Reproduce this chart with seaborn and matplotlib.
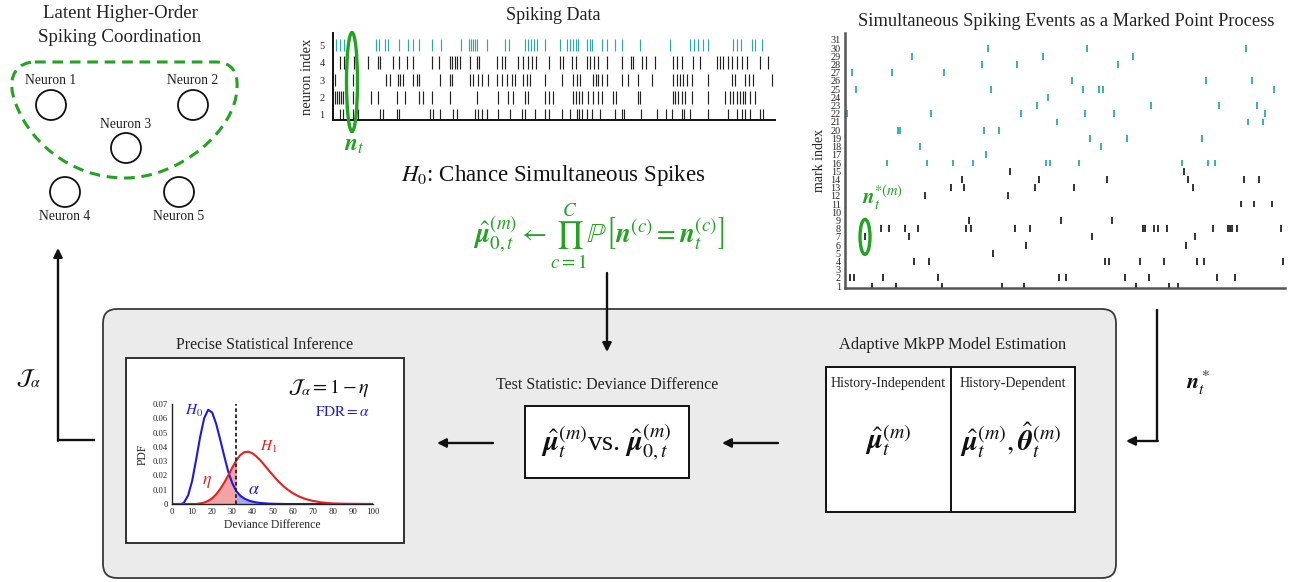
import numpy as np
import matplotlib
matplotlib.use("Agg")
import matplotlib.pyplot as plt
import seaborn as sns
from matplotlib.patches import Circle, Ellipse, FancyBboxPatch, Rectangle, PathPatch
from matplotlib.path import Path

# ---------------- data ----------------
neuron_ids = [1, 2, 3, 4, 5]
spikes_neuron1 = [7, 10, 15, 20, 23, 25, 47, 50, 64, 66, 97, 100, 107, 120, 124, 142, 145, 149, 154, 165, 177, 189, 192,
                  202, 212, 216, 229, 237, 244, 246, 249, 254, 259, 267, 282, 289, 291, 308, 324, 333, 339, 349, 351,
                  357, 375, 395, 404, 409, 412, 417, 427, 430]
spikes_neuron2 = [2, 4, 6, 8, 10, 20, 38, 45, 64, 72, 86, 90, 99, 117, 144, 165, 175, 180, 192, 195, 212, 216, 220, 240,
                  243, 246, 249, 255, 260, 265, 269, 280, 283, 305, 307, 340, 342, 345, 349, 352, 359, 375, 392, 397,
                  400, 404, 407, 410, 412, 417, 422]
spikes_neuron3 = [2, 20, 53, 57, 65, 67, 70, 80, 84, 86, 107, 117, 119, 137, 140, 145, 149, 155, 164, 169, 174, 179, 182,
                  190, 194, 197, 212, 229, 240, 244, 247, 260, 263, 265, 269, 274, 289, 295, 305, 319, 340, 344, 347,
                  350, 354, 359, 375, 399, 402, 412, 416, 420, 439]
spikes_neuron4 = [7, 11, 21, 35, 45, 47, 60, 66, 74, 80, 99, 106, 117, 119, 122, 124, 127, 137, 144, 146, 164, 169, 172,
                  185, 190, 195, 199, 203, 216, 227, 230, 239, 243, 254, 257, 261, 265, 274, 289, 298, 300, 309, 313,
                  322, 340, 344, 349, 360, 367, 384, 387, 390, 395, 399, 404, 409, 414, 427, 435]
spikes_neuron5 = [3, 7, 11, 43, 46, 52, 55, 66, 75, 80, 86, 99, 108, 128, 136, 138, 140, 142, 144, 154, 172, 176, 192,
                  195, 198, 201, 204, 212, 227, 234, 237, 240, 243, 245, 254, 257, 259, 269, 274, 282, 289, 307, 337,
                  357, 361, 365, 370, 375, 400, 404, 408, 419, 422, 429]
selected_time = 19

mark_ids = list(range(1, 32))
# events per mark (index 0 -> mark 1)
mark_events = [
    [27, 51, 97, 157, 179, 291, 324, 333],
    [5, 9, 38, 93, 214, 221, 280, 304, 372, 390],
    [],
    [69, 84, 260, 264, 295, 319, 352, 359, 438],
    [148],
    [181, 341],
    [20, 64, 247, 350],
    [24, 36, 44, 60, 73, 121, 126, 170, 185, 298, 300, 309, 313, 322, 368, 383, 385, 387, 392, 436],
    [124, 216, 267],
    [],
    [396, 409, 427],
    [80, 163],
    [106, 119, 190, 229, 348],
    [117, 194, 262, 343, 399, 414],
    [165, 339],
    [42, 82, 108, 128, 201, 205, 234, 337, 363, 370],
    [141],
    [75, 256],
    [245, 282, 357],
    [53, 55, 139, 154],
    [212, 403, 418],
    [2, 86, 176, 240, 269, 420],
    [192, 306, 374, 412],
    [203],
    [11, 146, 238, 254, 258, 429],
    [227, 361, 407],
    [7, 47, 99],
    [137, 172, 273],
    [67, 198, 288],
    [143, 242, 401],
    [],
]
selected_mark, selected_mark_time = 7, 20

deviance_x = [0, 2, 4, 5, 6, 8, 10, 12, 14, 16, 18, 20, 22, 24, 26, 28, 30, 32, 34, 36, 38, 40, 42, 44, 46, 48, 50,
              52, 54, 56, 58, 60, 62, 64, 66, 68, 70, 72, 74, 76, 78, 80, 84, 90, 100]
pdf_h0 = [0, 0, 0, 0.0002, 0.0010, 0.0060, 0.0160, 0.0310, 0.0470, 0.0600, 0.0660, 0.0640, 0.0560, 0.0450, 0.0335,
          0.0225, 0.0145, 0.0090, 0.0058, 0.0038, 0.0025, 0.0017, 0.0011, 0.0007, 0.0005, 0.0003, 0.0002, 0.0001,
          0.0001, 0, 0, 0, 0, 0, 0, 0, 0, 0, 0, 0, 0, 0, 0, 0, 0]
pdf_h1 = [0, 0, 0, 0, 0, 0, 0, 0, 0.0004, 0.0010, 0.0022, 0.0040, 0.0068, 0.0105, 0.0150, 0.0200, 0.0255, 0.0305,
          0.0343, 0.0363, 0.0366, 0.0355, 0.0333, 0.0305, 0.0272, 0.0238, 0.0205, 0.0173, 0.0144, 0.0118, 0.0096,
          0.0077, 0.0061, 0.0048, 0.0037, 0.0029, 0.0022, 0.0017, 0.0012, 0.0009, 0.0006, 0.0004, 0.0002, 0.0001, 0]
threshold = 32
pdf_xticks = list(range(0, 101, 10))
pdf_yticks = [0, 0.01, 0.02, 0.03, 0.04, 0.05, 0.06, 0.07]

neuron_labels = ["Neuron 1", "Neuron 2", "Neuron 3", "Neuron 4", "Neuron 5"]

# ---------------- style ----------------
sns.set_theme(style="white")
plt.rcParams['font.family'] = ['Liberation Serif', 'DejaVu Serif']
plt.rcParams['mathtext.fontset'] = 'stix'

GREEN = '#22a322'
CYAN = '#2aabab'
BLUE = '#1a1ae6'
RED = '#e61f1f'

W, H = 1292, 582
fig = plt.figure(figsize=(W / 100, H / 100), dpi=100)
fig.patch.set_facecolor('white')

bg = fig.add_axes([0, 0, 1, 1])
bg.set_xlim(0, W)
bg.set_ylim(H, 0)
bg.axis('off')


def px_axes(x0, y0, x1, y1):
    return fig.add_axes([x0 / W, 1 - y1 / H, (x1 - x0) / W, (y1 - y0) / H])


# ---------------- background panels ----------------
bg.add_patch(FancyBboxPatch((103, 309), 1013, 269, boxstyle="round,pad=0,rounding_size=14",
                            facecolor='#ebebeb', edgecolor='#3a3a3a', lw=1.3, zorder=1))
bg.add_patch(Rectangle((126, 358), 278, 185, facecolor='white', edgecolor='#222', lw=1.3, zorder=2))
bg.add_patch(Rectangle((525, 406), 164, 72, facecolor='white', edgecolor='#111', lw=1.4, zorder=2))
bg.add_patch(Rectangle((826, 367), 249, 145, facecolor='white', edgecolor='#111', lw=1.4, zorder=2))
bg.plot([951, 951], [367, 512], color='#111', lw=1.4, zorder=3)

# ---------------- neuron diagram ----------------
bg.text(120, 14, "Latent Higher-Order", ha='center', va='center', fontsize=13.6, color='#222')
bg.text(120, 38, "Spiking Coordination", ha='center', va='center', fontsize=13.6, color='#222')
neuron_xy = [(51, 105), (193, 105), (126, 148), (65, 192), (179, 192)]
label_xy = [(51, 80), (193, 81), (126, 125), (65, 216), (179, 216)]
for (cx, cy), (lx, ly), lab in zip(neuron_xy, label_xy, neuron_labels):
    bg.add_patch(Circle((cx, cy), 15, facecolor='none', edgecolor='#111', lw=1.3, zorder=3))
    bg.text(lx, ly, lab, ha='center', va='center', fontsize=9.8, color='#222')

verts = [(35, 62), (215, 62), (232, 62), (238, 72), (237, 88), (236, 130), (180, 178), (125, 178),
         (70, 178), (25, 140), (13, 95), (8, 75), (18, 62), (35, 62)]
codes = [Path.MOVETO, Path.LINETO] + [Path.CURVE4] * 12
bg.add_patch(PathPatch(Path(verts, codes), facecolor='none', edgecolor=GREEN, lw=2.2,
                       linestyle=(0, (3.5, 2.2)), zorder=3))

# ---------------- spiking data raster ----------------
bg.text(553, 16, "Spiking Data", ha='center', va='center', fontsize=13, color='#222')
ax1 = px_axes(333, 33, 775, 120)
rows = [spikes_neuron1, spikes_neuron2, spikes_neuron3, spikes_neuron4, spikes_neuron5]
ax1.eventplot(rows, lineoffsets=neuron_ids, linelengths=0.7, linewidths=0.85,
              colors=['#222'] * 4 + [CYAN])
ax1.set_xlim(0, 442)
ax1.set_ylim(0.714, 5.69)
ax1.set_xticks([])
ax1.set_yticks(neuron_ids)
ax1.set_yticklabels([str(i) for i in neuron_ids], fontsize=7.5)
ax1.tick_params(axis='y', length=0, pad=6)
ax1.set_ylabel("neuron index", fontsize=10.5, labelpad=4)
for s in ['top', 'right']:
    ax1.spines[s].set_visible(False)
for s in ['left', 'bottom']:
    ax1.spines[s].set_color('#111')
    ax1.spines[s].set_linewidth(1.4)
ax1.patch.set_alpha(0)

# ---------------- marked point process raster ----------------
bg.text(1066, 21, "Simultaneous Spiking Events as a Marked Point Process", ha='center', va='center',
        fontsize=13.2, color='#222')
ax2 = px_axes(845, 33, 1285, 288)
pos, offs, cols = [], [], []
for m, ev in zip(mark_ids, mark_events):
    if len(ev):
        pos.append(ev)
        offs.append(m)
        cols.append(CYAN if m >= 16 else '#222')
ax2.eventplot(pos, lineoffsets=offs, linelengths=0.85, linewidths=1.3, colors=cols)
ax2.set_xlim(0, 440)
ax2.set_ylim(0.76, 31.85)
ax2.set_xticks([])
ax2.set_yticks(mark_ids)
ax2.set_yticklabels([str(i) for i in mark_ids], fontsize=7.3)
ax2.tick_params(axis='y', length=0, pad=3)
ax2.set_ylabel("mark index", fontsize=10, labelpad=3)
for s in ['top', 'right']:
    ax2.spines[s].set_visible(False)
for s in ['left', 'bottom']:
    ax2.spines[s].set_color('#555')
    ax2.spines[s].set_linewidth(1.8)
ax2.patch.set_alpha(0)

# ---------------- PDF panel ----------------
bg.text(265, 345, "Precise Statistical Inference", ha='center', va='center', fontsize=11.5, color='#222', zorder=4)
ax3 = px_axes(172, 404, 373, 504)
xs = np.array(deviance_x, dtype=float)
h0 = np.array(pdf_h0)
h1 = np.array(pdf_h1)
ax3.fill_between(xs, 0, h1, where=xs <= threshold, color='#f3a3a3', lw=0)
ax3.fill_between(xs, 0, h0, where=xs >= threshold, color='#a9a9f2', lw=0)
sns.lineplot(x=deviance_x, y=pdf_h0, ax=ax3, color=BLUE, linewidth=1.5)
sns.lineplot(x=deviance_x, y=pdf_h1, ax=ax3, color=RED, linewidth=1.5)
ax3.plot([threshold, threshold], [0, 0.07], color='#222', lw=1.3, ls=(0, (2, 1.4)))
ax3.set_xlim(0, 100)
ax3.set_ylim(0, 0.07)
ax3.set_xticks(pdf_xticks)
ax3.set_xticklabels([str(t) for t in pdf_xticks], fontsize=6.4)
ax3.set_yticks(pdf_yticks)
ax3.set_yticklabels(['0' if t == 0 else f'{t:.2f}' for t in pdf_yticks], fontsize=6.2)
ax3.tick_params(direction='in', length=2.5, width=0.8, pad=3, color='#222')
ax3.set_xlabel("Deviance Difference", fontsize=8.4, labelpad=2)
ax3.set_ylabel("PDF", fontsize=8.4, labelpad=3)
sns.despine(ax=ax3)
for s in ['left', 'bottom']:
    ax3.spines[s].set_color('#222')
    ax3.spines[s].set_linewidth(1.0)
ax3.patch.set_alpha(0)
ax3.text(11, 0.065, r'$H_0$', color=BLUE, fontsize=11, ha='center', va='center')
ax3.text(48.2, 0.0397, r'$H_1$', color=RED, fontsize=11, ha='center', va='center')
ax3.text(17.3, 0.0156, r'$\eta$', color=RED, fontsize=13, ha='center', va='center')
ax3.text(40.7, 0.0103, r'$\alpha$', color=BLUE, fontsize=13, ha='center', va='center')

# ---------------- overlay: text, math, arrows ----------------
fg = fig.add_axes([0, 0, 1, 1])
fg.set_xlim(0, W)
fg.set_ylim(H, 0)
fg.axis('off')

fg.text(329, 388, r'$\mathcal{J}_{\alpha} = 1 - \eta$', ha='center', va='center', fontsize=14.5, color='#111')
fg.text(370, 412, r'$\mathrm{FDR} = \alpha$', ha='right', va='center', fontsize=11, color=BLUE)

fg.text(607, 385, "Test Statistic: Deviance Difference", ha='center', va='center', fontsize=11.5, color='#222')
fg.text(606, 442, r'$\hat{\mathbfit{\mu}}_t^{(m)}$vs. $\hat{\mathbfit{\mu}}_{0,t}^{(m)}$', ha='center',
        va='center', fontsize=20.5, color='#111')

fg.text(953, 345, "Adaptive MkPP Model Estimation", ha='center', va='center', fontsize=11.8, color='#222')
fg.text(888, 383, "History-Independent", ha='center', va='center', fontsize=10, color='#222')
fg.text(1013, 383, "History-Dependent", ha='center', va='center', fontsize=10, color='#222')
fg.text(888, 440, r'$\hat{\mathbfit{\mu}}_t^{(m)}$', ha='center', va='center', fontsize=20.5, color='#111')
fg.text(1011, 440, r'$\hat{\mathbfit{\mu}}_t^{(m)}, \hat{\mathbfit{\theta}}_t^{(m)}$', ha='center', va='center',
        fontsize=20.5, color='#111')

fg.text(553, 176, r'$H_0$: Chance Simultaneous Spikes', ha='center', va='center', fontsize=16.5, color='#111')
fg.text(599, 236, r'$\hat{\mathbfit{\mu}}_{0,t}^{(m)} \leftarrow \prod_{c=1}^{C} \mathbb{P}\left[\mathbfit{n}^{(c)} = \mathbfit{n}_t^{(c)}\right]$',
        ha='center', va='center', fontsize=19.5, color=GREEN)

fg.text(1198, 383, r'$\mathbfit{n}_t^*$', ha='center', va='center', fontsize=16, color='#111')
fg.text(28, 378, r'$\mathcal{J}_{\alpha}$', ha='center', va='center', fontsize=16, color='#111')

# green highlight of chosen time bin / mark
sel_x = 333 + selected_time * (775 - 333) / 442
fg.add_patch(Ellipse((sel_x, 82), 11, 99, facecolor='none', edgecolor=GREEN, lw=2.4))
fg.text(354, 146, r'$\mathbfit{n}_t$', ha='center', va='center', fontsize=17, color=GREEN)
mk_x = 845 + selected_mark_time * (1285 - 845) / 440
mk_y = 288 - (selected_mark - 0.76) * (288 - 33) / (31.85 - 0.76)
fg.add_patch(Ellipse((mk_x, mk_y), 10, 35, facecolor='none', edgecolor=GREEN, lw=2.4))
fg.text(882, 198, r'$\mathbfit{n}_t^{*(m)}$', ha='center', va='center', fontsize=15, color=GREEN)

arrow_kw = dict(arrowstyle='-|>', lw=1.7, color='#111', mutation_scale=13, shrinkA=0, shrinkB=0)
fg.annotate('', xy=(607, 352), xytext=(607, 273), arrowprops=arrow_kw)
fg.annotate('', xy=(437, 443), xytext=(493, 443), arrowprops=arrow_kw)
fg.annotate('', xy=(722, 443), xytext=(778, 443), arrowprops=arrow_kw)
fg.plot([1157, 1157], [309, 441], color='#111', lw=1.7, solid_capstyle='butt')
fg.annotate('', xy=(1126, 441), xytext=(1157.8, 441), arrowprops=arrow_kw)
fg.plot([95, 58], [440, 440], color='#111', lw=1.7, solid_capstyle='butt')
fg.annotate('', xy=(58, 248), xytext=(58, 440.8), arrowprops=arrow_kw)

fig.savefig("out.png", dpi=100, facecolor='white')
